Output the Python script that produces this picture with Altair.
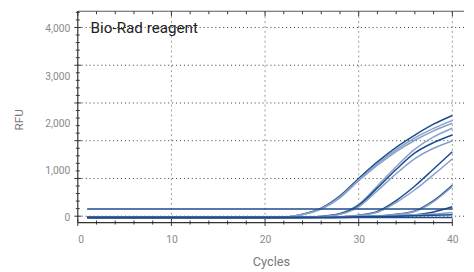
import altair as alt
import pandas as pd

# ---- data ----
cycles_key = [1, 20, 22, 24, 26, 28, 30, 32, 34, 36, 38, 40]
series = {
    "A1": [-30, -30, -20, 40, 170, 430, 800, 1150, 1460, 1720, 1950, 2135],
    "A2": [-30, -30, -20, 35, 160, 410, 770, 1110, 1410, 1660, 1860, 2030],
    "A3": [-30, -30, -25, 30, 150, 390, 750, 1080, 1370, 1610, 1810, 1970],
    "B1": [-30, -30, -30, -25, 0, 60, 250, 640, 1050, 1420, 1680, 1865],
    "B2": [-30, -30, -30, -25, -5, 50, 230, 600, 990, 1340, 1560, 1720],
    "B3": [-30, -30, -30, -25, -10, 40, 200, 540, 900, 1220, 1440, 1594],
    "C1": [-30, -30, -30, -30, -25, -15, 20, 100, 330, 640, 1000, 1365],
    "C2": [-30, -30, -30, -30, -25, -15, 15, 85, 290, 560, 880, 1214],
    "D1": [-30, -30, -30, -30, -30, -25, -20, 0, 40, 110, 330, 656],
    "D2": [-30, -30, -30, -30, -30, -25, -20, -5, 35, 100, 310, 630],
    "E1": [-30, -30, -30, -30, -30, -30, -20, -10, 0, 30, 90, 200],
    "E2": [-30, -30, -25, -25, -20, -15, 0, 10, 20, 30, 45, 80],
    "E3": [-30, -30, -25, -25, -25, -20, -10, -5, 0, 10, 20, 30],
    "F1": [150, 150, 150, 150, 150, 150, 150, 150, 150, 150, 150, 150],
    "F2": [-30, -30, -30, -30, -30, -30, -30, -30, -30, -30, -30, -30],
}
shade = {"A1": "dark", "A2": "light", "A3": "light", "B1": "light", "B2": "dark",
         "B3": "light", "C1": "dark", "C2": "light", "D1": "dark", "D2": "light",
         "E1": "dark", "E2": "light", "E3": "dark", "F1": "dark", "F2": "dark"}

x_major = [0, 10, 20, 30, 40]
x_minor = [2, 4, 6, 8, 12, 14, 16, 18, 22, 24, 26, 28, 32, 34, 36, 38]
y_grid = [0, 800, 1600, 2400, 3200, 4000]
y_minor = [160, 320, 480, 640, 960, 1120, 1280, 1440, 1760, 1920, 2080, 2240,
           2560, 2720, 2880, 3040, 3360, 3520, 3680, 3840, 4160, 4320]
y_labels = [0, 1000, 2000, 3000, 4000]

rows = []
for name, vals in series.items():
    for c, v in zip(cycles_key, vals):
        rows.append({"cycle": c, "rfu": v, "series": name, "shade": shade[name]})
df = pd.DataFrame(rows)

W, H = 393, 215
xs = alt.Scale(domain=[0, 41.25], nice=False, zero=False)
ys = alt.Scale(domain=[-135, 4344], nice=False, zero=False)
LBL = "#8a8a8a"
FONT = "Roboto"

xax = alt.Axis(values=x_major, ticks=False, domain=False, grid=False,
               labelPadding=12, labelFontSize=10.5, labelColor=LBL,
               labelFont=FONT, titleFont=FONT, titleFontSize=13,
               titleColor="#777", titleFontWeight="normal",
               titleBaseline="alphabetic", titleY=44)
yax = alt.Axis(values=y_labels, ticks=False, domain=False, grid=False,
               format=",.0f", labelPadding=8, labelFontSize=10.5,
               labelColor=LBL, labelFont=FONT, labelBaseline="middle",
               labelOffset=1.5,
               titleFont=FONT, titleFontSize=12, titleColor="#777",
               titleFontWeight="normal", titleX=-60, titleY=110,
               titleBaseline="middle", titleAlign="center")


def X(field):
    return alt.X(field, scale=xs, axis=xax, title="Cycles")


def Y(field):
    return alt.Y(field, scale=ys, axis=yax, title="RFU")


hgrid = alt.Chart(pd.DataFrame({"v": y_grid})).mark_rule(
    color="#333", strokeDash=[1, 3], strokeWidth=1).encode(
    y=Y("v:Q"), x=alt.value(0), x2=alt.value(W))
vgrid = alt.Chart(pd.DataFrame({"c": [10, 20, 30, 40]})).mark_rule(
    color="#999", strokeDash=[2, 3], strokeWidth=1).encode(
    x=X("c:Q"), y=alt.value(0), y2=alt.value(H))

curves = alt.Chart(df).mark_line(interpolate="monotone", strokeWidth=1.5).encode(
    x=X("cycle:Q"),
    y=Y("rfu:Q"),
    detail="series:N",
    color=alt.Color("shade:N", scale=alt.Scale(domain=["dark", "light"],
                                               range=["#1d4a8c", "#86a0c8"]),
                    legend=None),
)

frame = pd.DataFrame({"x0": [0], "x1": [40]})
bottom_axis = alt.Chart(frame).mark_rule(color="#333", strokeWidth=1.2).encode(
    x=X("x0:Q"), x2="x1:Q", y=alt.value(H))
left_axis = alt.Chart(frame).mark_rule(color="#333", strokeWidth=1.2).encode(
    x=alt.value(0), y=alt.value(0), y2=alt.value(H))
top_axis = alt.Chart(frame).mark_rule(color="#555", strokeWidth=1).encode(
    x=alt.value(0), x2=alt.value(W), y=alt.value(0))

xmaj = pd.DataFrame({"c": x_major})
xmin = pd.DataFrame({"c": x_minor})
ymaj = pd.DataFrame({"v": y_grid})
ymin = pd.DataFrame({"v": y_minor})

tick_style = dict(color="#333", strokeWidth=1)
bt_major = alt.Chart(xmaj).mark_rule(**tick_style).encode(
    x=X("c:Q"), y=alt.value(H - 3.5), y2=alt.value(H + 3.5))
bt_minor = alt.Chart(xmin).mark_rule(**tick_style).encode(
    x=X("c:Q"), y=alt.value(H - 2), y2=alt.value(H + 2))
tt_major = alt.Chart(xmaj).mark_rule(**tick_style).encode(
    x=X("c:Q"), y=alt.value(0), y2=alt.value(5))
tt_minor = alt.Chart(xmin).mark_rule(**tick_style).encode(
    x=X("c:Q"), y=alt.value(0), y2=alt.value(3))
lt_major = alt.Chart(ymaj).mark_rule(**tick_style).encode(
    y=Y("v:Q"), x=alt.value(-3.5), x2=alt.value(3.5))
lt_minor = alt.Chart(ymin).mark_rule(**tick_style).encode(
    y=Y("v:Q"), x=alt.value(-2), x2=alt.value(2))

label = alt.Chart(pd.DataFrame({"t": ["Bio-Rad reagent"]})).mark_text(
    align="left", baseline="alphabetic", font=FONT, fontSize=15.5,
    color="#222").encode(x=alt.value(13), y=alt.value(22), text="t:N")

chart = alt.layer(
    hgrid, vgrid, curves, bottom_axis, left_axis, top_axis,
    bt_major, bt_minor, tt_major, tt_minor, lt_major, lt_minor, label
).properties(
    width=W, height=H,
    autosize=alt.AutoSizeParams(type="none"),
    padding={"left": 71, "top": 1, "right": 2, "bottom": 48},
).configure_view(stroke=None)

chart.save("out.html", embed_options={"renderer": "svg", "actions": False})
